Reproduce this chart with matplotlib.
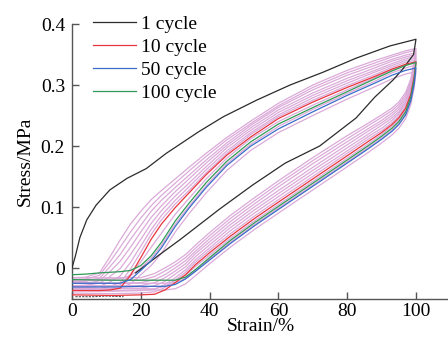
import matplotlib
matplotlib.use("Agg")
import matplotlib.pyplot as plt

# ---------------- data ----------------
# shared strain grids: loading (lower) branch and unloading (upper) branch
lower_strain = [0, 12, 20, 24, 27, 30, 33, 36, 40, 46, 53, 60, 70, 80, 86, 90, 93, 95, 97, 98.5, 99.5, 100]
upper_strain = [100, 97, 93, 88, 80, 70, 60, 52, 45, 39, 34, 30, 26, 23, 20, 17, 14, 11, 8, 4, 0]

# cycle 1 (black)
c1_load_strain = [0, 1, 2.3, 4.3, 7, 11, 16, 21.6, 27.4, 37, 44, 53.6, 63.4, 73, 82.6, 92.4, 100]
c1_load_stress = [0, 0.02, 0.05, 0.079, 0.103, 0.128, 0.147, 0.163, 0.188, 0.224, 0.248,
                  0.275, 0.300, 0.321, 0.344, 0.364, 0.375]
c1_unload_strain = [100, 99.3, 96, 93.3, 88, 82.6, 72, 62, 52.5, 43, 31.3, 25, 19.7, 18.5]
c1_unload_stress = [0.375, 0.350, 0.325, 0.308, 0.280, 0.246, 0.200, 0.172, 0.136, 0.097,
                    0.046, 0.020, -0.003, -0.008]
c1_base_strain = [1, 6, 10, 15]
c1_base_stress = [-0.047, -0.047, -0.046, -0.047]

# cycle 10 (red)
c10_lower = [-0.044, -0.045, -0.044, -0.043, -0.036, -0.024, -0.011, 0.006, 0.025, 0.052, 0.081,
             0.108, 0.146, 0.184, 0.207, 0.222, 0.235, 0.246, 0.262, 0.285, 0.315, 0.338]
c10_upper = [0.338, 0.334, 0.326, 0.314, 0.296, 0.272, 0.245, 0.215, 0.185, 0.153, 0.123,
             0.099, 0.072, 0.047, 0.017, -0.012, -0.033, -0.036, -0.037, -0.037, -0.037]
# cycle 50 (blue)
c50_lower = [-0.031, -0.031, -0.030, -0.030, -0.030, -0.027, -0.018, -0.005, 0.013, 0.040, 0.069,
             0.096, 0.134, 0.172, 0.195, 0.211, 0.224, 0.235, 0.251, 0.274, 0.302, 0.328]
c50_upper = [0.328, 0.324, 0.316, 0.303, 0.283, 0.256, 0.228, 0.200, 0.168, 0.132, 0.098,
             0.068, 0.033, 0.012, -0.004, -0.019, -0.025, -0.025, -0.025, -0.025, -0.025]
# cycle 100 (green)
c100_lower = [-0.019, -0.020, -0.020, -0.020, -0.020, -0.020, -0.015, -0.002, 0.017, 0.045, 0.074,
              0.101, 0.139, 0.177, 0.200, 0.216, 0.229, 0.240, 0.256, 0.280, 0.310, 0.337]
c100_upper = [0.337, 0.332, 0.323, 0.310, 0.289, 0.263, 0.236, 0.207, 0.175, 0.140, 0.106,
              0.077, 0.042, 0.020, 0.004, -0.004, -0.006, -0.007, -0.008, -0.010, -0.011]

# remaining cycles (pink), loading branches
pink_lower = [
    [-0.016, -0.016, -0.016, -0.009, 0.000, 0.010, 0.022, 0.038, 0.058, 0.086, 0.115, 0.143, 0.181, 0.217, 0.237, 0.251, 0.262, 0.272, 0.288, 0.310, 0.340, 0.360],
    [-0.020, -0.020, -0.020, -0.014, -0.005, 0.005, 0.017, 0.033, 0.053, 0.081, 0.110, 0.138, 0.176, 0.212, 0.233, 0.247, 0.258, 0.268, 0.284, 0.306, 0.336, 0.357],
    [-0.024, -0.025, -0.024, -0.019, -0.011, 0.000, 0.012, 0.028, 0.048, 0.076, 0.105, 0.133, 0.171, 0.207, 0.228, 0.242, 0.254, 0.264, 0.280, 0.303, 0.333, 0.353],
    [-0.029, -0.029, -0.029, -0.024, -0.016, -0.005, 0.007, 0.024, 0.043, 0.071, 0.100, 0.127, 0.165, 0.202, 0.224, 0.238, 0.250, 0.260, 0.276, 0.299, 0.329, 0.350],
    [-0.033, -0.033, -0.033, -0.029, -0.022, -0.010, 0.002, 0.019, 0.038, 0.066, 0.095, 0.122, 0.160, 0.197, 0.219, 0.234, 0.246, 0.256, 0.272, 0.295, 0.325, 0.347],
    [-0.037, -0.038, -0.037, -0.035, -0.027, -0.016, -0.003, 0.014, 0.033, 0.061, 0.090, 0.117, 0.155, 0.192, 0.215, 0.229, 0.242, 0.253, 0.269, 0.291, 0.321, 0.344],
    [-0.041, -0.042, -0.041, -0.039, -0.032, -0.020, -0.007, 0.010, 0.029, 0.056, 0.085, 0.112, 0.150, 0.188, 0.211, 0.225, 0.238, 0.249, 0.265, 0.288, 0.318, 0.341],
    [-0.037, -0.037, -0.036, -0.036, -0.036, -0.034, -0.026, -0.012, 0.007, 0.034, 0.063, 0.090, 0.128, 0.166, 0.189, 0.205, 0.218, 0.229, 0.245, 0.268, 0.296, 0.322],
    [-0.025, -0.025, -0.025, -0.025, -0.025, -0.024, -0.017, -0.004, 0.015, 0.042, 0.071, 0.098, 0.136, 0.174, 0.197, 0.213, 0.226, 0.237, 0.253, 0.277, 0.306, 0.333],
    [-0.034, -0.034, -0.034, -0.034, -0.030, -0.020, -0.012, 0.003, 0.021, 0.048, 0.077, 0.104, 0.142, 0.180, 0.203, 0.219, 0.232, 0.243, 0.259, 0.282, 0.312, 0.338],
]
# remaining cycles (pink), unloading branches
pink_upper = [
    [0.360, 0.356, 0.349, 0.340, 0.324, 0.300, 0.270, 0.241, 0.214, 0.188, 0.165, 0.146, 0.127, 0.112, 0.093, 0.072, 0.046, 0.018, -0.008, -0.015, -0.016],
    [0.357, 0.353, 0.346, 0.336, 0.320, 0.296, 0.266, 0.237, 0.210, 0.183, 0.159, 0.139, 0.119, 0.102, 0.082, 0.059, 0.034, 0.010, -0.012, -0.018, -0.019],
    [0.353, 0.349, 0.342, 0.332, 0.316, 0.292, 0.263, 0.234, 0.205, 0.177, 0.152, 0.132, 0.111, 0.093, 0.070, 0.047, 0.022, 0.002, -0.017, -0.022, -0.022],
    [0.350, 0.346, 0.339, 0.328, 0.311, 0.287, 0.259, 0.230, 0.201, 0.172, 0.146, 0.125, 0.102, 0.083, 0.059, 0.034, 0.011, -0.006, -0.021, -0.025, -0.025],
    [0.347, 0.343, 0.335, 0.324, 0.307, 0.283, 0.255, 0.226, 0.197, 0.166, 0.139, 0.118, 0.094, 0.073, 0.047, 0.022, -0.001, -0.014, -0.025, -0.028, -0.029],
    [0.344, 0.340, 0.332, 0.321, 0.303, 0.279, 0.251, 0.222, 0.192, 0.161, 0.133, 0.111, 0.086, 0.063, 0.036, 0.009, -0.013, -0.023, -0.030, -0.032, -0.032],
    [0.341, 0.337, 0.329, 0.317, 0.299, 0.275, 0.248, 0.219, 0.188, 0.156, 0.127, 0.105, 0.079, 0.055, 0.026, -0.002, -0.024, -0.030, -0.034, -0.035, -0.034],
    [0.322, 0.318, 0.310, 0.297, 0.277, 0.250, 0.222, 0.193, 0.160, 0.123, 0.089, 0.059, 0.024, 0.004, -0.011, -0.026, -0.032, -0.034, -0.035, -0.035, -0.035],
    [0.333, 0.328, 0.320, 0.306, 0.286, 0.260, 0.232, 0.203, 0.171, 0.135, 0.101, 0.072, 0.037, 0.016, 0.000, -0.013, -0.017, -0.018, -0.018, -0.019, -0.019],
    [0.338, 0.333, 0.325, 0.312, 0.292, 0.267, 0.240, 0.212, 0.180, 0.146, 0.114, 0.088, 0.057, 0.034, 0.010, -0.010, -0.028, -0.030, -0.030, -0.030, -0.030],
]

legend_labels = ["1 cycle", "10 cycle", "50 cycle", "100 cycle"]
x_ticks = [0, 20, 40, 60, 80, 100]
y_ticks = [0, 0.1, 0.2, 0.3, 0.4]
y_tick_labels = ["0", "0.1", "0.2", "0.3", "0.4"]

# ---------------- plotting ----------------
plt.rcParams['font.family'] = ['Liberation Serif', 'DejaVu Serif']

fig = plt.figure(figsize=(4.48, 3.41), dpi=100)
ax = fig.add_axes([0.1607, 0.1246, 0.8446, 0.805])

pink = "#dbaad9"
lw = 0.9
loop_strain = lower_strain + upper_strain
for lo, up in zip(pink_lower, pink_upper):
    ax.plot(loop_strain, lo + up, color=pink, lw=lw, zorder=1)

ax.plot(c1_load_strain + c1_unload_strain, c1_load_stress + c1_unload_stress,
        color="#2b2b2b", lw=lw, zorder=3, label=legend_labels[0])
ax.plot(c1_base_strain, c1_base_stress, color="#555555", lw=0.8, ls=(0, (2, 1)), zorder=3)
ax.plot(loop_strain, c10_lower + c10_upper, color="#e8343c", lw=lw, zorder=4, label=legend_labels[1])
ax.plot(loop_strain, c50_lower + c50_upper, color="#3a6cc8", lw=lw, zorder=5, label=legend_labels[2])
ax.plot(loop_strain, c100_lower + c100_upper, color="#2f9a55", lw=lw, zorder=4, label=legend_labels[3])

ax.set_xlim(0, 110)
ax.set_ylim(-0.05, 0.4)
ax.set_xticks(x_ticks)
ax.set_yticks(y_ticks)
ax.set_yticklabels(y_tick_labels)

for s in ["top", "right"]:
    ax.spines[s].set_visible(False)
for s in ["left", "bottom"]:
    ax.spines[s].set_color("#555555")
    ax.spines[s].set_linewidth(1.0)
ax.tick_params(direction="in", length=5, width=1.0, color="#555555",
               labelsize=14, pad=5)
ax.tick_params(axis="x", pad=3)

ax.set_xlabel("Strain/%", fontsize=14, labelpad=-1)
ax.set_ylabel("Stress/MPa", fontsize=14, labelpad=5)

leg = ax.legend(loc="upper left", bbox_to_anchor=(0.035, 1.06), frameon=False,
                fontsize=14, handlelength=2.2, handletextpad=0.25,
                labelspacing=0.28, borderaxespad=0)

fig.savefig("out.png", dpi=100)
